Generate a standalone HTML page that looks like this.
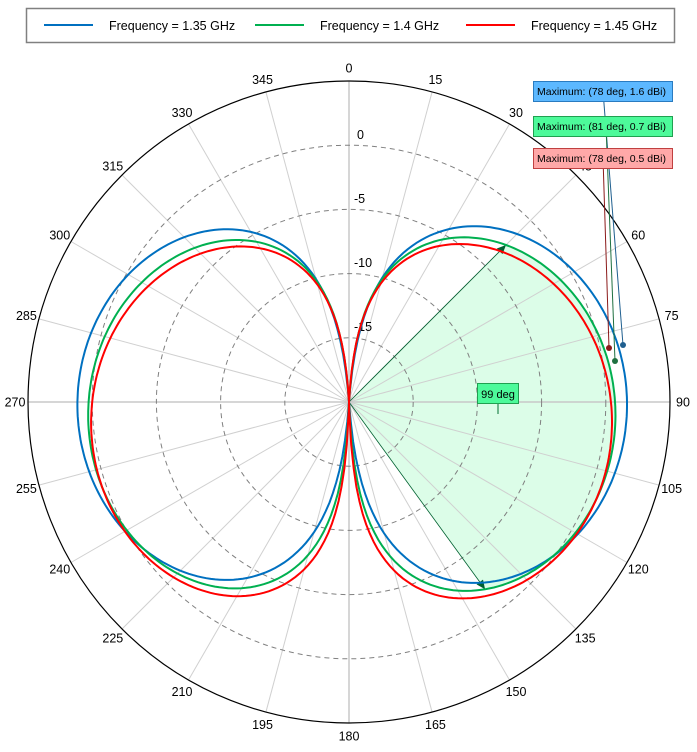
<!DOCTYPE html>
<html><head><meta charset="utf-8"><style>
body{margin:0;background:#fff;}
svg{display:block;font-family:"Liberation Sans",sans-serif;}
</style></head><body>
<svg id="s" width="697" height="752" viewBox="0 0 697 752" xmlns="http://www.w3.org/2000/svg"></svg>
<script>
const cx=349,cy=402,R=321,S=12.84;
let h='';
h+='<rect x="26.5" y="8.5" width="648" height="34" fill="#fff" stroke="#808080" stroke-width="1.5"/>';
const leg=[[44,'#0070c0','Frequency = 1.35 GHz'],[255,'#00b050','Frequency = 1.4 GHz'],[466,'#ff0000','Frequency = 1.45 GHz']];
for(const [x,c,t] of leg){h+=`<line x1="${x}" y1="25" x2="${x+49}" y2="25" stroke="${c}" stroke-width="2"/><text x="${x+65}" y="30" font-size="12.5" fill="#000">${t}</text>`;}
function P(th,r){const a=th*Math.PI/180;return [cx+r*Math.sin(a),cy-r*Math.cos(a)];}
function rad(dB){return Math.max(0,(dB+20)*S);}
// color, G, k, a(cos), b(sin)
const ser=[['#0070c0',1.4,0.95,-0.3,0.25],['#00b050',0.5,0.8,-1.35,0.22],['#ff0000',0.2,0.74,-2.1,0.2]];
function f(s,th){const a=th*Math.PI/180;const sn=Math.abs(Math.sin(a));const d=sn<1e-6?-100:s[1]+s[2]*20*Math.log10(sn)+s[3]*Math.cos(a)+s[4]*Math.sin(a);return rad(d);}
let sp=`M${cx},${cy}`;for(let t=45;t<=144;t+=1){const p=P(t,f(ser[1],t));sp+=`L${p[0].toFixed(1)},${p[1].toFixed(1)}`;}sp+='Z';
h+=`<path d="${sp}" fill="#dcfde8"/>`;
for(let t=0;t<360;t+=15){const p=P(t,R);h+=`<line x1="${cx}" y1="${cy}" x2="${p[0]}" y2="${p[1]}" stroke="${t%90==0?'#c8c8c8':'#d0d0d0'}" stroke-width="${t%90==0?1.5:1}"/>`;
 const q=P(t,R+13);h+=`<text x="${q[0]}" y="${q[1]+4.5}" font-size="12.5" text-anchor="middle" fill="#000">${t}</text>`;}
for(const r of [64.2,128.4,192.6,256.8]) h+=`<circle cx="${cx}" cy="${cy}" r="${r}" fill="none" stroke="#808080" stroke-dasharray="5,4"/>`;
h+=`<circle cx="${cx}" cy="${cy}" r="${R}" fill="none" stroke="#000" stroke-width="1.2"/>`;
const rl=[['0',357,139],['-5',354,203],['-10',354,267],['-15',354,331]];
for(const [t,x,y] of rl)h+=`<text x="${x}" y="${y}" font-size="12.5" fill="#000">${t}</text>`;
const e1=P(45,f(ser[1],45)),e2=P(144,f(ser[1],144));
h+=`<line x1="${cx}" y1="${cy}" x2="${e1[0]}" y2="${e1[1]}" stroke="#006030" stroke-width="0.8"/><line x1="${cx}" y1="${cy}" x2="${e2[0]}" y2="${e2[1]}" stroke="#006030" stroke-width="0.8"/>`;
function arrow(e,th){const a=th*Math.PI/180;const ux=Math.sin(a),uy=-Math.cos(a);const px=-uy,py=ux;const b=[e[0]-ux*9,e[1]-uy*9];h+=`<polygon points="${e[0]},${e[1]} ${b[0]+px*4},${b[1]+py*4} ${b[0]-px*4},${b[1]-py*4}" fill="#006030"/>`;}
arrow(e1,45);arrow(e2,144);
for(const s of ser){let d='';for(let t=0;t<=360;t+=1){const p=P(t,f(s,t));d+=(t?'L':'M')+p[0].toFixed(1)+','+p[1].toFixed(1);}h+=`<path d="${d}Z" fill="none" stroke="${s[0]}" stroke-width="2"/>`;}
h+='<line x1="498" y1="393" x2="498" y2="414" stroke="#007030"/><rect x="477.5" y="383.5" width="41" height="20" fill="#4dfa9a" stroke="#20a050"/><text x="498" y="398" font-size="11" text-anchor="middle">99 deg</text>';
const mk=[['#1f5f8f','#5cb8ff','#2a7bc0',81,'Maximum: (78 deg, 1.6 dBi)',603,623,345],['#1f7040','#4dfa9a','#20a050',116,'Maximum: (81 deg, 0.7 dBi)',606,615,361],['#8b1a1a','#ffa8a8','#c04040',148,'Maximum: (78 deg, 0.5 dBi)',603,609,348]];
for(const m of mk){h+=`<line x1="${m[5]}" y1="${m[3]+10}" x2="${m[6]}" y2="${m[7]}" stroke="${m[0]}" stroke-width="1"/>`;}
for(const m of mk){h+=`<rect x="533.5" y="${m[3]+0.5}" width="139" height="20" fill="${m[1]}" stroke="${m[2]}"/><text x="537" y="${m[3]+14}" font-size="10.5">${m[4]}</text><circle cx="${m[6]}" cy="${m[7]}" r="3" fill="${m[0]}"/>`;}
document.getElementById('s').innerHTML=h;
</script>
</body></html>
